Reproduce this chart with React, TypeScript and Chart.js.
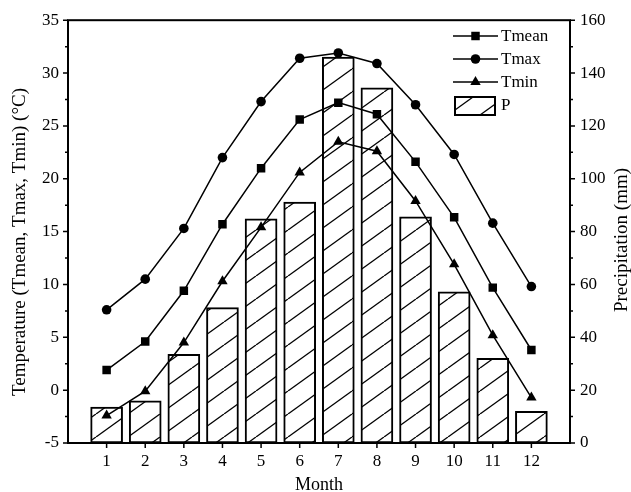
import React, { useEffect, useRef } from 'react';
import { Chart, registerables } from 'chart.js';

Chart.register(...registerables);

const months = [1, 2, 3, 4, 5, 6, 7, 8, 9, 10, 11, 12];
const tmean = [1.9, 4.6, 9.4, 15.7, 21.0, 25.6, 27.2, 26.1, 21.6, 16.35, 9.7, 3.8];
const tmax = [7.6, 10.5, 15.3, 22.0, 27.3, 31.4, 31.9, 30.9, 27.0, 22.3, 15.8, 9.8];
const tmin = [-2.4, -0.1, 4.5, 10.3, 15.4, 20.6, 23.5, 22.6, 17.9, 11.9, 5.2, -0.7];
const precip = [13.6, 16.0, 33.6, 51.2, 84.8, 91.2, 146.0, 134.4, 85.6, 57.2, 32.0, 12.0];

const leftTitle = 'Temperature (Tmean, Tmax, Tmin) (°C)';
const rightTitle = 'Precipitation (mm)';
const bottomTitle = 'Month';

const FONT = '"Liberation Serif", "Times New Roman", serif';

function makePattern(): CanvasPattern | string {
  const w = 32;
  const h = 23;
  const c = document.createElement('canvas');
  c.width = w;
  c.height = h;
  const g = c.getContext('2d');
  if (!g) return '#fff';
  g.fillStyle = '#fff';
  g.fillRect(0, 0, w, h);
  g.strokeStyle = '#000';
  g.lineWidth = 1.3;
  for (const dx of [-w, 0, w]) {
    g.beginPath();
    g.moveTo(dx, h);
    g.lineTo(dx + w, 0);
    g.stroke();
  }
  const p = g.createPattern(c, 'repeat');
  return p || '#fff';
}

function drawMarker(ctx: CanvasRenderingContext2D, style: string, x: number, y: number, r: number) {
  ctx.beginPath();
  if (style === 'rect') {
    const s = Math.SQRT1_2 * r;
    ctx.rect(x - s, y - s, 2 * s, 2 * s);
  } else if (style === 'circle') {
    ctx.arc(x, y, r, 0, Math.PI * 2);
  } else {
    const a = Math.PI * 2 / 3;
    ctx.moveTo(x, y - r);
    ctx.lineTo(x + Math.sin(a) * r, y - Math.cos(a) * r);
    ctx.lineTo(x + Math.sin(2 * a) * r, y - Math.cos(2 * a) * r);
    ctx.closePath();
  }
  ctx.fill();
}

export default function App() {
  const ref = useRef<HTMLCanvasElement | null>(null);

  useEffect(() => {
    const canvas = ref.current;
    if (!canvas) return;
    const pattern = makePattern();

    const lineSeries = [
      { label: 'Tmean', data: tmean, style: 'rect', r: 6 },
      { label: 'Tmax', data: tmax, style: 'circle', r: 4.8 },
      { label: 'Tmin', data: tmin, style: 'triangle', r: 6 },
    ];

    const framePlugin = {
      id: 'frame',
      beforeDraw(chart: any) {
        const c = chart.ctx;
        c.save();
        c.fillStyle = '#fff';
        c.fillRect(0, 0, chart.width, chart.height);
        c.restore();
      },
      afterDraw(chart: any) {
        const c: CanvasRenderingContext2D = chart.ctx;
        const a = chart.chartArea;
        const ys = chart.scales.y;
        const y1 = chart.scales.y1;
        const xs = chart.scales.x;
        c.save();
        c.strokeStyle = '#000';
        c.lineWidth = 2;
        c.strokeRect(a.left, a.top, a.right - a.left, a.bottom - a.top);
        c.lineWidth = 1.5;
        c.beginPath();
        for (let v = -5; v <= 35.001; v += 2.5) {
          const y = ys.getPixelForValue(v);
          const len = Math.abs(v % 5) < 0.01 ? 5 : 3;
          c.moveTo(a.left, y);
          c.lineTo(a.left - len, y);
        }
        for (let v = 0; v <= 160.001; v += 10) {
          const y = y1.getPixelForValue(v);
          const len = v % 20 === 0 ? 5 : 3;
          c.moveTo(a.right, y);
          c.lineTo(a.right + len, y);
        }
        for (const m of months) {
          const x = xs.getPixelForValue(m);
          c.moveTo(x, a.bottom);
          c.lineTo(x, a.bottom + 5);
        }
        c.stroke();

        // axis titles (both read bottom-to-top)
        c.fillStyle = '#000';
        c.font = `19px ${FONT}`;
        c.textAlign = 'center';
        c.textBaseline = 'middle';
        c.save();
        c.translate(20, 242);
        c.rotate(-Math.PI / 2);
        c.fillText(leftTitle, 0, 0);
        c.restore();
        c.save();
        c.translate(622, 240);
        c.rotate(-Math.PI / 2);
        c.fillText(rightTitle, 0, 0);
        c.restore();

        // legend
        const lx0 = 453;
        const lx1 = 498;
        const tx = 501;
        c.font = `17px ${FONT}`;
        c.textBaseline = 'middle';
        c.textAlign = 'left';
        c.fillStyle = '#000';
        lineSeries.forEach((s, i) => {
          const y = 36 + i * 23;
          c.lineWidth = 1.5;
          c.beginPath();
          c.moveTo(lx0, y);
          c.lineTo(lx1, y);
          c.stroke();
          drawMarker(c, s.style, (lx0 + lx1) / 2, y, s.r);
          c.fillText(s.label, tx, y + 1);
        });
        c.fillStyle = pattern as any;
        c.fillRect(455, 97, 40, 18);
        c.lineWidth = 2;
        c.strokeRect(455, 97, 40, 18);
        c.fillStyle = '#000';
        c.fillText('P', tx, 106);
        c.restore();
      },
    };

    const lineDatasets = lineSeries.map((s) => ({
      type: 'line' as const,
      label: s.label,
      data: months.map((m, i) => ({ x: m, y: s.data[i] })),
      yAxisID: 'y',
      xAxisID: 'x',
      borderColor: '#000',
      borderWidth: 1.5,
      backgroundColor: '#000',
      pointStyle: s.style,
      pointRadius: s.r,
      pointBackgroundColor: '#000',
      pointBorderColor: '#000',
      pointBorderWidth: 0,
      tension: 0,
      order: 0,
    }));

    const chart = new Chart(canvas, {
      type: 'bar',
      data: {
        datasets: [
          ...lineDatasets,
          {
            type: 'bar' as const,
            label: 'P',
            data: months.map((m, i) => ({ x: m, y: precip[i] })),
            yAxisID: 'y1',
            xAxisID: 'x',
            backgroundColor: pattern as any,
            borderColor: '#000',
            borderWidth: 2,
            borderSkipped: false,
            barThickness: 32,
            order: 1,
          },
        ] as any,
      },
      options: {
        responsive: false,
        animation: false,
        devicePixelRatio: 1,
        layout: { padding: { top: 19, left: 0, right: 0, bottom: 0 } },
        plugins: { legend: { display: false }, tooltip: { enabled: false } },
        scales: {
          x: {
            type: 'linear',
            min: 0,
            max: 13,
            offset: false,
            grid: { display: false, drawTicks: false },
            border: { display: false },
            ticks: {
              stepSize: 1,
              color: '#000',
              font: { family: FONT, size: 17 },
              padding: 8,
              autoSkip: false,
              maxRotation: 0,
              callback: (v: any) => (v >= 1 && v <= 12 ? String(v) : ''),
            },
            title: {
              display: true,
              text: bottomTitle,
              color: '#000',
              font: { family: FONT, size: 18, lineHeight: 1 },
              padding: { top: 0, bottom: -2 },
            },
            afterFit: (s: any) => { s.height = 49; },
          },
          y: {
            type: 'linear',
            position: 'left',
            min: -5,
            max: 35,
            grid: { display: false, drawTicks: false },
            border: { display: false },
            ticks: {
              stepSize: 5,
              color: '#000',
              font: { family: FONT, size: 17 },
              padding: 9,
            },
            title: { display: false },
            afterFit: (s: any) => { s.width = 68; },
          },
          y1: {
            type: 'linear',
            position: 'right',
            min: 0,
            max: 160,
            grid: { display: false, drawTicks: false },
            border: { display: false },
            ticks: {
              stepSize: 20,
              color: '#000',
              font: { family: FONT, size: 17 },
              padding: 10,
            },
            title: { display: false },
            afterFit: (s: any) => { s.width = 61; },
          },
        },
      } as any,
      plugins: [framePlugin],
    });

    return () => chart.destroy();
  }, []);

  return (
    <div style={{ position: 'fixed', left: 0, top: 0, width: 631, height: 492, background: '#fff' }}>
      <canvas ref={ref} width={631} height={492} style={{ display: 'block' }} />
    </div>
  );
}
